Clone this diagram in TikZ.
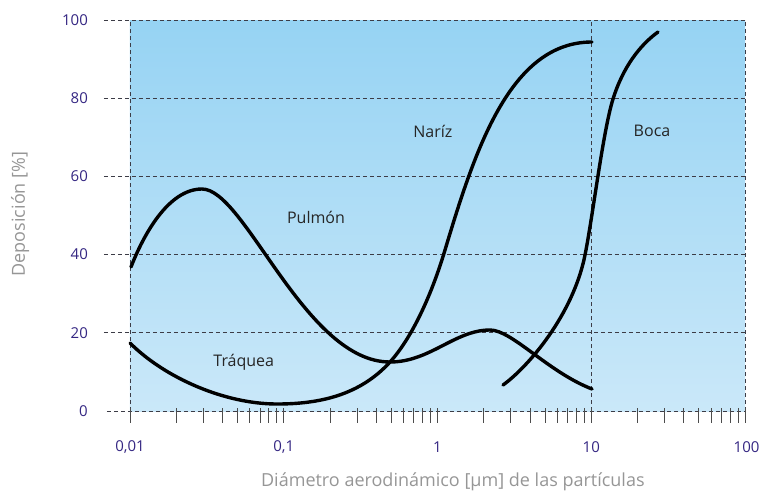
\documentclass[tikz,border=0pt]{standalone}
\usepackage{fontspec}
\setmainfont{Open Sans}
\usetikzlibrary{positioning}

\definecolor{tickblue}{RGB}{52,38,130}
\definecolor{titlegray}{RGB}{150,150,150}
\definecolor{skytop}{RGB}{150,211,243}
\definecolor{skybottom}{RGB}{202,232,249}
\definecolor{gridgray}{RGB}{60,60,70}

\tikzset{
  gridline/.style={gridgray, line width=0.7pt, dash pattern=on 4pt off 3pt},
  tickmark/.style={gray!60!black, line width=0.8pt},
  curve/.style={black, line width=3.4pt, line cap=round},
  ylab/.style={tickblue, font=\fontsize{15}{18}\selectfont, inner sep=0pt},
  xlab/.style={tickblue, font=\fontsize{15}{18}\selectfont, inner sep=0pt},
  zone/.style={black!85, font=\fontsize{16}{19}\selectfont},
  axtitle/.style={titlegray, font=\fontsize{18}{21}\selectfont}
}

\begin{document}
\begin{tikzpicture}[x=153.75pt,y=3.91pt]
	\useasboundingbox (-0.8455,-20.97) rectangle (4.091,105.12);
	\shade[top color=skytop, bottom color=skybottom] (0,0) rectangle (4,100);
	
	% grid
	\foreach \v in {20,40,...,100}
		\draw[gridline] (-0.17,\v) -- (4,\v);
	\draw[gridline] (-0.15,0) -- (4,0);
	\foreach \u in {0,3,4}
		\draw[gridline] (\u,0) -- (\u,100);
	
	% ticks
	\foreach \d in {0,1,2,3}
		\foreach \k in {1,...,9}
			\draw[tickmark] ({\d+log10(\k)},0.77) -- ++(0,-3.9);
	\draw[tickmark] (4,0.77) -- ++(0,-3.9);
	
	% tick labels
	\foreach \v in {0,20,...,100}
		\node[ylab, anchor=east] (y\v) at (-0.273,\v) {\v};
	\node[xlab] (x0) at (0,-9.2) {0,01};
	\node[xlab] (x1) at (1,-9.2) {0,1};
	\node[xlab] (x2) at (2,-9.2) {1};
	\node[xlab] (x3) at (3,-9.2) {10};
	\node[xlab] (x4) at (4.01,-9.2) {100};
	
	% axis titles
	\node[axtitle] (xtitle) at (2.1,-18.2) {Diámetro aerodinámico [µm] de las partículas};
	\node[axtitle, rotate=90] (ytitle) at (-0.715,50.4) {Deposición [\%]};
	
	% curves (pixel units from top left)
	\begin{scope}[shift={(-0.8455,105.12)}, x=1pt, y=-1pt]
		% pulmon
		\draw[curve] (131,267) .. controls (143,236) and (168,189) .. (202,189)
			.. controls (245,189) and (305,362) .. (390,362)
			.. controls (430,362) and (455,330) .. (490,330)
			.. controls (512,330) and (548,372) .. (592,389);
		% traquea / nariz
		\draw[curve] (130,343) .. controls (165,378) and (225,404) .. (277,404)
			.. controls (320,404) and (360,395) .. (390,362)
			.. controls (410,340) and (430,300) .. (445,250)
			.. controls (475,150) and (510,42) .. (592,42);
		% boca
		\draw[curve] (503,385) .. controls (528,367) and (573,315) .. (585,255)
			.. controls (593,215) and (603,131) .. (613,99)
			.. controls (623,67) and (640,45) .. (658,32);
	\end{scope}
	
	% zone labels
	\node[zone] (pulmon) at (1.21,49.6) {Pulmón};
	\node[zone] (traquea) at (0.74,12.5) {Tráquea};
	\node[zone] (nariz) at (1.97,71.6) {Naríz};
	\node[zone] (boca) at (3.395,71.6) {Boca};
\end{tikzpicture}
\end{document}
